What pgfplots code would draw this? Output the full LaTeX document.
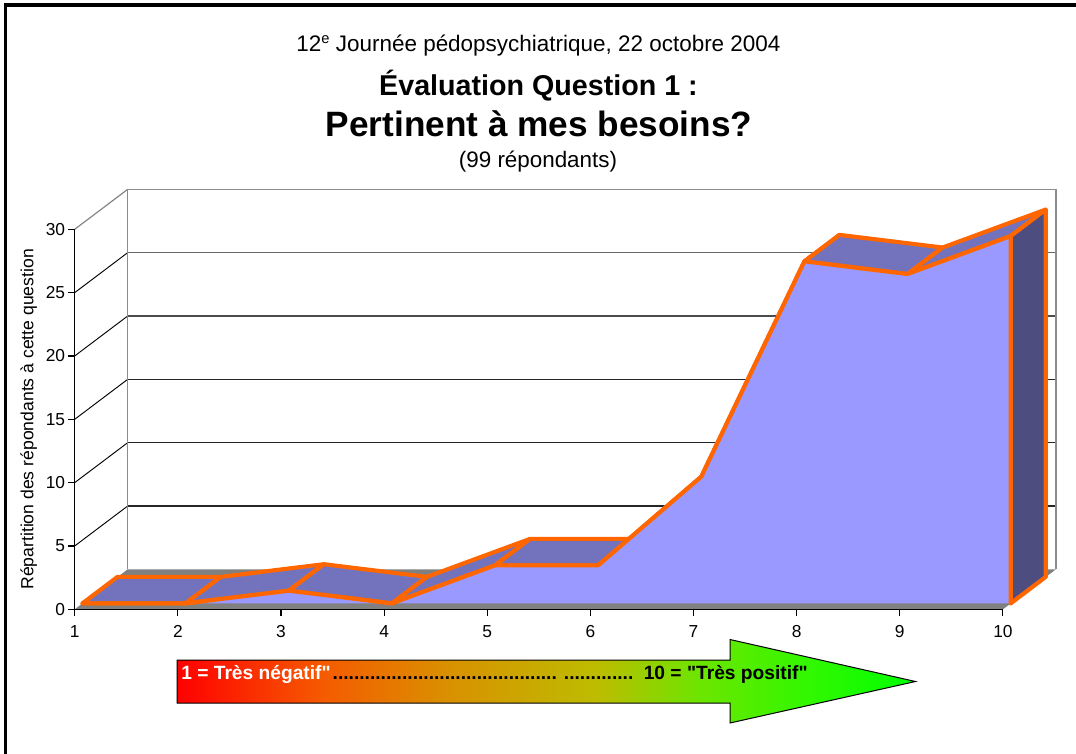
\documentclass[border=0pt]{standalone}
\usepackage{pgfplots}
\usepackage{fontspec}
\setmainfont{Liberation Sans}
\newfontfamily\plainf{Liberation Sans}
\pgfplotsset{compat=1.18}
\definecolor{frontc}{RGB}{153,153,255}
\definecolor{topc}{RGB}{115,115,189}
\definecolor{sidec}{RGB}{77,77,128}
\definecolor{edge}{RGB}{255,102,0}
\definecolor{floorc}{RGB}{128,128,128}
\definecolor{wallc}{RGB}{134,134,134}
\pgfdeclarehorizontalshading{arrowgrad}{100bp}{
  rgb(0bp)=(1,0,0);
  rgb(25bp)=(1,0,0);
  rgb(35bp)=(.96,.36,0);
  rgb(43.5bp)=(.85,.57,0);
  rgb(53.5bp)=(.74,.74,0);
  rgb(60.5bp)=(.42,.90,0);
  rgb(67.5bp)=(.2,.97,0);
  rgb(75bp)=(0,1,0);
  rgb(100bp)=(0,1,0)}
% tables: x, value, depth (0 = front of the area, 1 = back of the area)
\newcommand{\areaface}[2]{\addplot[#1] table[row sep=\\,
   x expr=\thisrow{x}+0.075+0.34*\thisrow{d},
   y expr=\thisrow{v}+0.47+2.09*\thisrow{d}] {x v d\\ #2} -- cycle;}
\begin{document}
\begin{tikzpicture}[x=0.75pt,y=-0.75pt]
\path[use as bounding box] (0,0) rectangle (1076,754);
\fill[white] (0,0) rectangle (1076,754);
\draw[black,line width=2.6pt] (5.5,754) -- (5.5,5) -- (1076,5);
\begin{axis}[
  at={(56.025pt,-456.975pt)},anchor=south west,
  scale only axis,width=696.2pt,height=285pt,
  xmin=1,xmax=10,ymin=0,ymax=30,clip=false,
  axis x line*=bottom,axis y line*=left,
  axis line style={black,line width=0.9pt,-},
  axis on top,
  xtick={1,...,10},ytick={0,5,...,30},
  tick align=outside,major tick length=5.2pt,
  tick style={black,line width=0.8pt},
  tick label style={font=\fontsize{13}{15}\selectfont},
  xticklabel style={yshift=-3.5pt},
  yticklabel style={xshift=1.5pt},
  /pgf/number format/assume math mode=true,
  ylabel={Répartition des répondants à cette question},
  ylabel style={font=\fontsize{13.2}{15}\selectfont,at={(axis description cs:-0.0495,0.50)},anchor=center},
]
% back wall
\addplot[draw=none,fill=white] coordinates {(1.514,3.157)(10.514,3.157)(10.514,33.157)(1.514,33.157)} -- cycle;
% wall lines
\addplot[black,line width=0.7pt] coordinates {(1,5)(1.514,8.157)};
\addplot[black,line width=0.7pt] coordinates {(1,10)(1.514,13.157)};
\addplot[black,line width=0.7pt] coordinates {(1,15)(1.514,18.157)};
\addplot[black,line width=0.7pt] coordinates {(1,20)(1.514,23.157)};
\addplot[black,line width=0.7pt] coordinates {(1,25)(1.514,28.157)};
\addplot[wallc,line width=0.9pt] coordinates {(1,30)(1.514,33.157)};
\addplot[black!85,line width=0.8pt] coordinates {(1.514,8.157)(10.514,8.157)};
\addplot[black!85,line width=0.8pt] coordinates {(1.514,13.157)(10.514,13.157)};
\addplot[black!85,line width=0.8pt] coordinates {(1.514,18.157)(10.514,18.157)};
\addplot[black!70,line width=0.9pt] coordinates {(1.514,23.157)(10.514,23.157)};
\addplot[black!60,line width=0.9pt] coordinates {(1.514,28.157)(10.514,28.157)};
\addplot[black!45,line width=1.1pt] coordinates {(1.514,33.157)(10.514,33.157)};
\addplot[black!45,line width=1.1pt] coordinates {(1.514,3.157)(1.514,33.157)};
\addplot[black!45,line width=1.1pt] coordinates {(10.514,3.157)(10.514,33.157)};
% floor
\addplot[draw=none,fill=floorc] coordinates {(1,0)(10,0)(10.514,3.157)(1.514,3.157)} -- cycle;
% top faces of the area
\pgfplotsset{faceq/.style={fill=topc,draw=edge,line width=3.1pt,line join=round}}
\areaface{faceq}{1 0 0\\ 2 0 0\\ 2 0 1\\ 1 0 1\\}
\areaface{faceq}{2 0 0\\ 3 1 0\\ 3 1 1\\ 2 0 1\\}
\areaface{faceq}{3 1 0\\ 4 0 0\\ 4 0 1\\ 3 1 1\\}
\areaface{faceq}{4 0 0\\ 5 3 0\\ 5 3 1\\ 4 0 1\\}
\areaface{faceq}{5 3 0\\ 6 3 0\\ 6 3 1\\ 5 3 1\\}
\areaface{faceq}{6 3 0\\ 7 10 0\\ 7 10 1\\ 6 3 1\\}
\areaface{faceq}{7 10 0\\ 8 27 0\\ 8 27 1\\ 7 10 1\\}
\areaface{faceq}{8 27 0\\ 9 26 0\\ 9 26 1\\ 8 27 1\\}
\areaface{faceq}{9 26 0\\ 10 29 0\\ 10 29 1\\ 9 26 1\\}
% side face
\areaface{fill=sidec,draw=edge,line width=3.1pt,line join=round}{10 0 0\\ 10 29 0\\ 10 29 1\\ 10 0 1\\}
% front face
\areaface{fill=frontc,draw=none}{1 0 0\\ 2 0 0\\ 3 1 0\\ 4 0 0\\ 5 3 0\\ 6 3 0\\ 7 10 0\\ 8 27 0\\ 9 26 0\\ 10 29 0\\ 10 0 0\\}
\addplot[edge,line width=3.1pt,line join=round,line cap=round] table[row sep=\\,
   x expr=\thisrow{x}+0.075, y expr=\thisrow{v}+0.47]
   {x v\\ 1 0\\ 2 0\\ 3 1\\ 4 0\\ 5 3\\ 6 3\\ 7 10\\ 8 27\\ 9 26\\ 10 29\\ 10 0\\};
\end{axis}
% titles
\node[font=\fontsize{16.85}{18}\selectfont] at (538.5,45.5) {12\raisebox{0.7ex}{\fontsize{11}{12}\selectfont e} Journée pédopsychiatrique, 22 octobre 2004};
\node[font=\fontsize{21.5}{24}\selectfont\bfseries] at (538.5,86) {Évaluation Question 1 :};
\node[font=\fontsize{26.4}{30}\selectfont\bfseries] at (539,124) {Pertinent à mes besoins?};
\node[font=\fontsize{16.8}{18}\selectfont] at (538,162) {(99 répondants)};
% arrow
\shade[shading=arrowgrad,draw=none] (177,660) -- (730,660) -- (730,639.5) -- (915.5,681.5) -- (730,723) -- (730,703) -- (177,703) -- cycle;
\draw[black,line width=0.75pt,line join=miter] (177,660) -- (730,660) -- (730,639.5) -- (915.5,681.5) -- (730,723) -- (730,703) -- (177,703) -- cycle;
\node[anchor=base west,inner sep=0pt,font=\plainf\fontsize{14.4}{16}\selectfont\bfseries] at (181,679) {\textcolor{white}{1 = Très négatif"}\kern1.5pt.......................................... ............. \kern2.5pt 10 = "Très positif"};
\end{tikzpicture}
\end{document}
